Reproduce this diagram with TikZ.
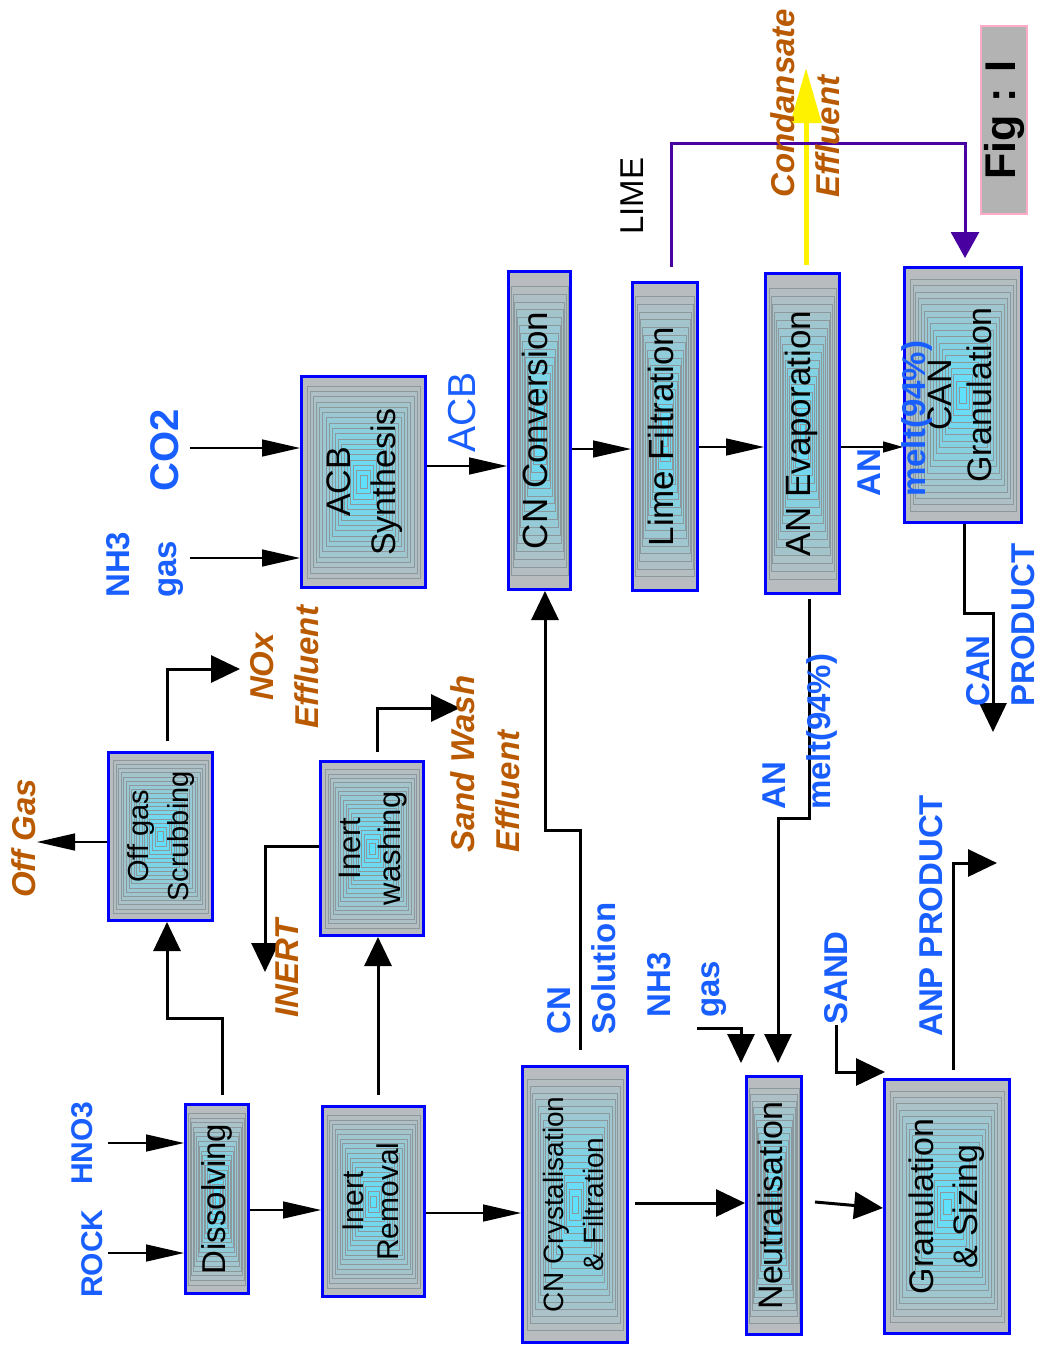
\documentclass[tikz,border=0pt]{standalone}
\usepackage{fontspec}
\setmainfont{Liberation Sans}
\usepackage{graphicx}
\usetikzlibrary{arrows.meta,calc}
\definecolor{boxblue}{RGB}{0,0,255}
\definecolor{boxgray}{RGB}{184,188,190}
\definecolor{boxcyan}{RGB}{95,224,252}
\definecolor{boxline}{RGB}{140,152,156}
\definecolor{labblue}{RGB}{25,95,255}
\definecolor{effbrown}{RGB}{185,90,0}
\definecolor{limepurple}{RGB}{72,0,160}
\definecolor{figgray}{RGB}{179,179,179}
\definecolor{figpink}{RGB}{255,170,200}
\newcommand\boxtxt[3]{\rotatebox{90}{\fontsize{#1}{#2}\selectfont\begin{tabular}{@{}c@{}}#3\end{tabular}}}
\begin{document}
\begin{tikzpicture}[x=1pt,y=-1pt,
  procbox/.style={draw=boxblue, line width=3pt, inner sep=0pt, fill=boxgray,
    path picture={
      \foreach \k in {1,...,18}{
        \pgfmathsetmacro{\kfr}{0.02+\k*0.025}
        \pgfmathtruncatemacro{\kpc}{100*(\k/18)}
        \path[draw=boxline, line width=0.35pt, fill=boxcyan!\kpc!boxgray]
          ($(path picture bounding box.south west)!\kfr!(path picture bounding box.north east)$)
          rectangle
          ($(path picture bounding box.north east)!\kfr!(path picture bounding box.south west)$);
      }
    }},
  lab/.style={rotate=90, inner sep=0pt, anchor=west, align=left, font=\fontsize{33}{45}\selectfont\bfseries},
  bluelab/.style={lab, text=labblue},
  brownlab/.style={lab, text=effbrown, font=\fontsize{33}{45}\selectfont\bfseries\itshape},
  thickarr/.style={line width=3pt, -{Triangle[length=29pt,width=27pt]}},
  thinarr/.style={line width=1.5pt, -{Triangle[length=38pt,width=17pt]}}
]
\fill[white] (0,0) rectangle (1042,1354);
\useasboundingbox (0,0) rectangle (1042,1354);

% process boxes
\node[procbox, minimum width=63pt, minimum height=189pt] (diss) at (217,1199) {\boxtxt{33}{40}{Dissolving}};
\node[procbox, minimum width=102pt, minimum height=190pt] (inrem) at (373.5,1201.5) {\boxtxt{30}{35}{Inert\\Removal}};
\node[procbox, minimum width=105pt, minimum height=276pt] (cncry) at (575,1204.5) {\boxtxt{28}{40}{CN Crystalisation\\\& Filtration}};
\node[procbox, minimum width=55pt, minimum height=258pt] (neut) at (774,1205.5) {\boxtxt{34}{40}{Neutralisation}};
\node[procbox, minimum width=125pt, minimum height=254pt] (gran) at (947,1206.5) {\boxtxt{34}{44}{Granulation\\\& Sizing}};
\node[procbox, minimum width=104pt, minimum height=168pt] (offg) at (160.5,836.5) {\boxtxt{29}{40}{Off gas\\Scrubbing}};
\node[procbox, minimum width=103pt, minimum height=174pt] (inw) at (372,848.5) {\boxtxt{31}{40}{Inert\\washing}};
\node[procbox, minimum width=124pt, minimum height=211pt] (acb) at (363.5,482) {\boxtxt{34}{45}{ACB\\Synthesis}};
\node[procbox, minimum width=62pt, minimum height=318pt] (cnc) at (539.5,430.5) {\boxtxt{35}{40}{CN Conversion}};
\node[procbox, minimum width=65pt, minimum height=308pt] (lime) at (665,436.5) {\boxtxt{35}{40}{Lime Filtration}};
\node[procbox, minimum width=74pt, minimum height=320pt] (anev) at (802.5,433.5) {\boxtxt{35}{40}{AN Evaporation}};
\node[procbox, minimum width=117pt, minimum height=255pt] (cang) at (963,395) {\boxtxt{34}{40}{CAN\\Granulation}};
\node[draw=figpink, fill=figgray, line width=1.5pt, minimum width=46pt, minimum height=188pt, inner sep=0pt] (fig) at (1004,120) {\rotatebox{90}{\fontsize{43}{50}\selectfont\bfseries Fig : I}};

% free ends
\coordinate (rockS) at (108,1253);
\coordinate (hnoS) at (108,1143);
\coordinate (offgT) at (37,842);
\coordinate (noxT) at (240,669);
\coordinate (inertT) at (265,972);
\coordinate (sandT) at (460,708);
\coordinate (nh3S) at (190,558);
\coordinate (co2S) at (190,448);
\coordinate (nh3gS) at (697,1028);
\coordinate (sandS) at (836,1025);
\coordinate (anpT) at (997,863);
\coordinate (canT) at (993,732);
\coordinate (condT) at (806,68);

% connectors
\draw[thinarr] (rockS) -- (rockS -| diss.west);
\draw[thinarr] (hnoS) -- (hnoS -| diss.west);
\draw[thinarr] (diss.east |- 0,1210) -- (inrem.west |- 0,1210);
\draw[thinarr] (inrem.east |- 0,1213) -- (cncry.west |- 0,1213);
\draw[thickarr] ($(cncry.east |- 0,1203)+(6,0)$) -- (neut.west |- 0,1203);
\draw[thickarr] ($(neut.east |- 0,1202)+(12,0)$) -- (gran.west |- 0,1208);

\draw[thickarr] ($(diss.north -| 222,0)+(0,-8)$) |- (167,1018) -- (offg.south -| 167,0);
\draw[thinarr] (offg.west |- offgT) -- (offgT);
\draw[thickarr] ($(offg.north -| 167,0)+(0,-10)$) |- (noxT);
\draw[thickarr] ($(inrem.north -| 378,0)+(0,-10)$) -- (inw.south -| 378,0);
\draw[thickarr] (inw.west |- 0,846) -| (inertT);
\draw[thickarr] ($(inw.north -| 377,0)+(0,-8)$) |- (sandT);
\draw[thickarr] ($(cncry.north -| 580,0)+(0,-15)$) |- (545,830) -- (cnc.south -| 545,0);

\draw[thinarr] (nh3S) -- (nh3S -| acb.west);
\draw[thinarr] (co2S) -- (co2S -| acb.west);
\draw[thinarr] (acb.east |- 0,466) -- (cnc.west |- 0,466);
\draw[thinarr] (cnc.east |- 0,449) -- (lime.west |- 0,449);
\draw[thinarr] (lime.east |- 0,447) -- (anev.west |- 0,447);
\draw[line width=1.5pt, -{Triangle[length=20pt,width=11pt]}] (anev.east |- 0,447) -- (cang.west |- 0,447);

\draw[thickarr, shorten >=12pt] ($(anev.south -| 809,0)+(0,4)$) |- (778,818) -- (neut.north -| 778,0);
\draw[thickarr, shorten >=12pt] (nh3gS) -| (neut.north -| 741,0);
\draw[thickarr] (sandS) |- ($(gran.north west)+(2,-6)$);
\draw[thickarr] ($(gran.north -| 953,0)+(0,-8)$) |- (anpT);
\draw[thickarr] (cang.south -| 964,0) |- (993,613) -- (canT);

\draw[line width=5pt, yellow, -{Triangle[length=55pt,width=30pt]}] ($(anev.north -| 806,0)+(0,-7)$) -- (condT);
\draw[line width=3pt, limepurple, -{Triangle[length=26pt,width=28pt]}, shorten >=8pt] ($(lime.north -| 671,0)+(0,-14)$) |- (965,143) -- (cang.north -| 965,0);

% labels
\node[bluelab, font=\fontsize{30}{40}\selectfont\bfseries] (rocklab) at (92,1298) {ROCK};
\node[bluelab, font=\fontsize{30}{40}\selectfont\bfseries] (hnolab) at (82,1185) {HNO3};
\node[brownlab] (offgaslab) at (24,898) {Off Gas};
\node[brownlab, anchor=center, align=center] (noxlab) at (285,667) {NOx\\Effluent};
\node[brownlab] (inertlab) at (287,1018) {INERT};
\node[brownlab] (sandlab) at (485,853) {Sand Wash\\Effluent};
\node[bluelab, font=\fontsize{33}{47}\selectfont\bfseries] (nh3alab) at (145,598) {NH3\\gas};
\node[bluelab, font=\fontsize{40}{45}\selectfont\bfseries] (co2lab) at (165,492) {CO2};
\node[bluelab, font=\fontsize{39}{45}\selectfont] (acblab) at (462,453) {ACB};
\node[bluelab] (cnlab) at (582,1035) {CN\\Solution};
\node[bluelab, font=\fontsize{33}{49}\selectfont\bfseries] (nh3blab) at (687,1018) {NH3\\gas};
\node[bluelab] (anblab) at (800,810) {AN\\melt(94\%)};
\node[bluelab] (sandblab) at (836,1025) {SAND};
\node[bluelab] (anplab) at (931,1037) {ANP PRODUCT};
\node[bluelab] (canplab) at (1001,707) {CAN\\PRODUCT};
\node[bluelab] (analab) at (895,497) {AN\\melt(94\%)};
\node[lab, font=\fontsize{33}{45}\selectfont] (limelab) at (632,235) {LIME};
\node[brownlab] (condlab) at (805,198) {Condansate\\Effluent};
\end{tikzpicture}
\end{document}
